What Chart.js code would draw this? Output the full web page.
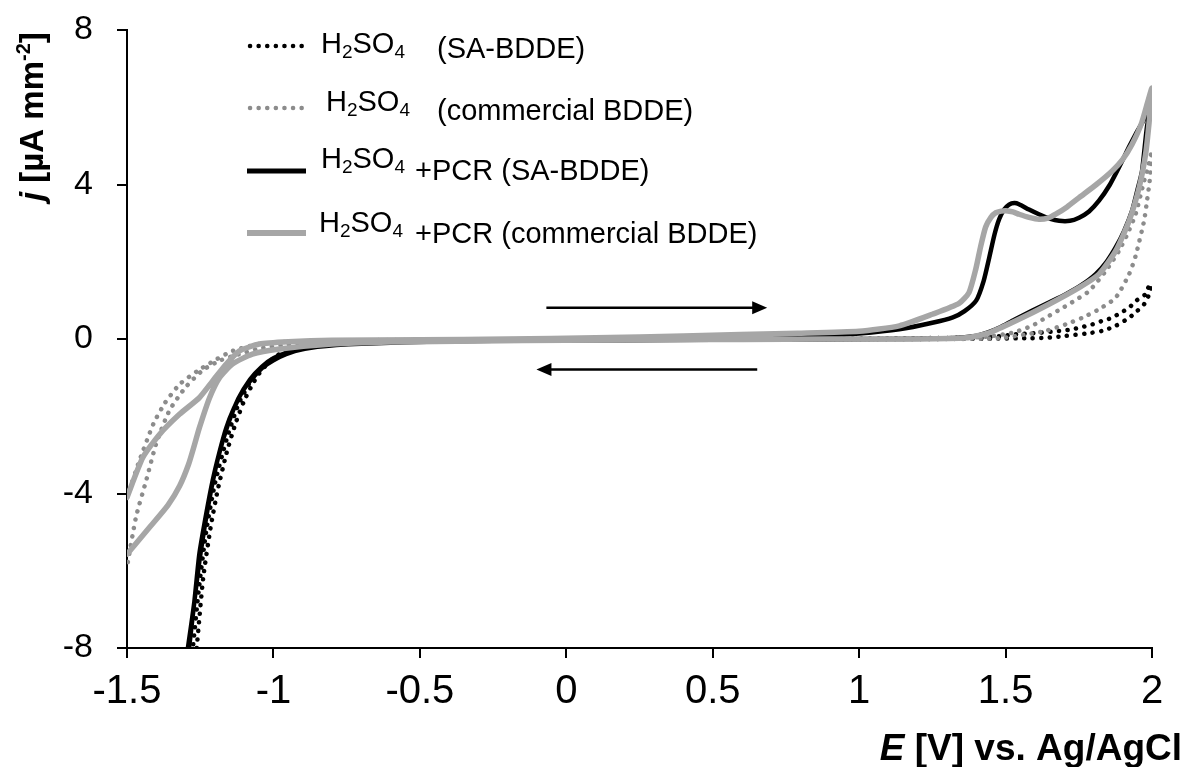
<!DOCTYPE html>
<html><head><meta charset="utf-8">
<script src="https://cdn.jsdelivr.net/npm/chart.js@4.4.1/dist/chart.umd.min.js"></script>
<style>html,body{margin:0;padding:0;background:#fff;}canvas{display:block;}</style>
</head><body>
<canvas id="c" width="1184" height="767"></canvas>
<script>
const FAM = '"Liberation Sans", Arial, Helvetica, sans-serif';

// ---- axis ticks ----
const xTicks = [-1.5, -1, -0.5, 0, 0.5, 1, 1.5, 2];
const yTicks = [-8, -4, 0, 4, 8];

// ---- legend labels ----
const seriesSuffix = ['(SA-BDDE)', '(commercial BDDE)', '+PCR (SA-BDDE)', '+PCR (commercial BDDE)'];

// ---- H2SO4 (SA-BDDE), black dotted ----
const E_A = [-1.262,-1.24,-1.215,-1.19,-1.16,-1.13,-1.1,-1.07,-1.04,-1.0,-0.95,-0.9,-0.8,-0.6,-0.3,0,0.3,0.6,0.9,1.2,1.45,1.57,1.637,1.706,1.774,1.83,1.876,1.922,1.95,1.973,1.99,2.0,
             1.99,1.978,1.944,1.922,1.893,1.864,1.83,1.797,1.762,1.727,1.683,1.614,1.535,1.478,1.4,1.2,0.9,0.6,0.3,0,-0.3,-0.6,-0.8,-0.9,-0.96,-1.0,-1.04,-1.08,-1.12,-1.16,-1.2,-1.23,-1.255,-1.275];
const J_A = [-8,-6.2,-4.9,-3.9,-2.95,-2.2,-1.6,-1.15,-0.8,-0.52,-0.32,-0.2,-0.1,-0.05,-0.02,0,0,0,0,0,0.01,0.02,0.03,0.08,0.14,0.21,0.34,0.55,0.73,0.9,1.15,1.4,
             1.37,1.16,0.98,0.81,0.68,0.55,0.47,0.38,0.31,0.25,0.21,0.16,0.12,0.07,0.04,0.02,0.01,0,0,-0.01,-0.03,-0.06,-0.12,-0.2,-0.3,-0.5,-0.75,-1.12,-1.7,-2.6,-3.75,-5.0,-6.5,-8];

// ---- H2SO4 (commercial BDDE), grey dotted ----
const E_B = [-1.5,-1.46,-1.41,-1.37,-1.32,-1.26,-1.2,-1.14,-1.05,-0.95,-0.8,-0.5,-0.2,0.1,0.4,0.7,1.0,1.3,1.478,1.569,1.637,1.706,1.762,1.819,1.876,1.922,1.944,1.973,1.983,1.992,2.0,
             1.985,1.973,1.944,1.915,1.887,1.842,1.785,1.727,1.694,1.637,1.59,1.522,1.42,1.2,0.9,0.6,0.3,0,-0.3,-0.6,-0.8,-0.95,-1.05,-1.12,-1.18,-1.24,-1.3,-1.355,-1.4,-1.434,-1.469,-1.5];
const J_B = [-4.1,-3.2,-2.2,-1.65,-1.17,-0.83,-0.55,-0.31,-0.13,-0.07,-0.04,-0.02,-0.01,0,0,0,0,0,0.02,0.12,0.21,0.38,0.55,0.77,1.07,1.68,2.15,3.06,3.58,4.09,4.87,
             4.4,4.09,3.23,2.7,2.28,1.76,1.24,0.95,0.8,0.55,0.34,0.16,0.05,0.01,0,0,-0.01,-0.02,-0.03,-0.05,-0.08,-0.14,-0.25,-0.4,-0.55,-0.8,-1.25,-1.85,-2.7,-3.65,-4.6,-5.9];

// ---- H2SO4 + PCR (SA-BDDE), black solid ----
const E_C = [-1.292,-1.27,-1.253,-1.23,-1.208,-1.185,-1.161,-1.135,-1.105,-1.07,-1.037,-1.0,-0.957,-0.9,-0.8,-0.6,-0.3,0,0.3,0.6,0.9,1.0,1.137,1.25,1.32,1.36,1.4,1.425,1.444,1.462,1.478,1.495,1.512,1.53,1.546,1.58,1.614,1.65,1.683,1.72,1.751,1.785,1.819,1.855,1.887,1.92,1.944,1.97,2.0,
             1.983,1.966,1.95,1.932,1.905,1.876,1.845,1.808,1.76,1.706,1.65,1.59,1.53,1.478,1.44,1.398,1.3,1.1,0.8,0.5,0.2,-0.1,-0.4,-0.7,-0.85,-0.95,-1.0,-1.04,-1.08,-1.12,-1.155,-1.19,-1.22,-1.25,-1.27,-1.288];
const J_C = [-8,-6.8,-5.57,-4.55,-3.68,-2.95,-2.3,-1.8,-1.35,-1.0,-0.74,-0.55,-0.39,-0.26,-0.15,-0.08,-0.03,0,0.02,0.05,0.1,0.14,0.25,0.42,0.56,0.72,1.0,1.5,2.1,2.7,3.1,3.35,3.48,3.52,3.49,3.35,3.23,3.12,3.06,3.06,3.14,3.3,3.58,3.98,4.44,4.95,5.3,5.65,6.15,
             5.5,4.35,3.85,3.32,2.8,2.37,2.0,1.68,1.4,1.16,0.95,0.73,0.5,0.29,0.17,0.08,0.02,0,-0.01,-0.02,-0.03,-0.04,-0.06,-0.12,-0.2,-0.35,-0.5,-0.72,-1.05,-1.55,-2.2,-3.1,-4.2,-5.6,-6.8,-8];

// ---- H2SO4 + PCR (commercial BDDE), grey solid ----
const E_D = [-1.5,-1.446,-1.389,-1.321,-1.253,-1.208,-1.161,-1.116,-1.048,-0.95,-0.8,-0.5,-0.2,0.1,0.4,0.79,1.0,1.137,1.25,1.341,1.375,1.398,1.415,1.432,1.45,1.467,1.485,1.501,1.525,1.546,1.58,1.614,1.645,1.671,1.71,1.751,1.81,1.864,1.9,1.932,1.965,2.0,
             1.99,1.978,1.956,1.922,1.876,1.819,1.751,1.648,1.535,1.444,1.364,1.2,0.9,0.6,0.3,0,-0.3,-0.6,-0.8,-0.98,-1.072,-1.14,-1.184,-1.218,-1.253,-1.27,-1.29,-1.32,-1.36,-1.42,-1.5];
const J_D = [-4.1,-3.07,-2.47,-1.95,-1.52,-1.09,-0.65,-0.31,-0.13,-0.07,-0.03,-0.02,0,0.03,0.08,0.15,0.2,0.34,0.64,0.92,1.2,1.8,2.4,2.9,3.15,3.27,3.31,3.32,3.29,3.23,3.15,3.1,3.13,3.23,3.42,3.66,4.0,4.35,4.65,5.04,5.6,6.5,
             5.6,4.78,3.92,3.06,2.28,1.68,1.33,0.9,0.47,0.16,0.03,0,0,-0.01,-0.02,-0.03,-0.05,-0.08,-0.13,-0.26,-0.39,-0.65,-1.0,-1.52,-2.3,-2.75,-3.25,-3.8,-4.3,-4.85,-5.57];

// ---- scan-direction arrows (E start, E end, j) ----
const arrowStartE = [-0.068, 0.652];
const arrowEndE   = [0.686, -0.102];
const arrowJ      = [0.81, -0.79];

const pts = (E, J) => E.map((e, i) => ({x: e, y: J[i]}));

const styles = [
  {color: '#000000', width: 4.5, dash: [0.1, 8.5]},
  {color: '#8c8c8c', width: 4.5, dash: [0.1, 8.5]},
  {color: '#000000', width: 4.5, dash: []},
  {color: '#a6a6a6', width: 5.5, dash: []}
];
const allData = [pts(E_A, J_A), pts(E_B, J_B), pts(E_C, J_C), pts(E_D, J_D)];
const orders = [3, 2, 1, 0];

const datasets = allData.map((d, i) => ({
  label: 'H2SO4 ' + seriesSuffix[i],
  data: d,
  showLine: true,
  borderColor: styles[i].color,
  borderWidth: styles[i].width,
  borderDash: styles[i].dash,
  borderCapStyle: 'round',
  borderJoinStyle: 'round',
  pointRadius: 0,
  pointHoverRadius: 0,
  tension: 0.2,
  fill: false,
  order: orders[i]
}));

function drawH2SO4(ctx, x, base, size) {
  const sub = Math.round(size * 0.66);
  const parts = [['H', 0, size], ['2', size * 0.16, sub], ['SO', 0, size], ['4', size * 0.16, sub]];
  for (const [t, dy, s] of parts) {
    ctx.font = s + 'px ' + FAM;
    ctx.fillText(t, x, base + dy);
    x += ctx.measureText(t).width;
  }
  return x;
}

const overlay = {
  id: 'overlay',
  afterDraw(chart) {
    const ctx = chart.ctx;
    const xs = chart.scales.x, ys = chart.scales.y;
    ctx.save();
    ctx.fillStyle = '#000';
    ctx.strokeStyle = '#000';
    ctx.textBaseline = 'alphabetic';
    ctx.textAlign = 'left';

    // arrows
    for (let i = 0; i < arrowJ.length; i++) {
      const x0 = xs.getPixelForValue(arrowStartE[i]);
      const x1 = xs.getPixelForValue(arrowEndE[i]);
      const y = ys.getPixelForValue(arrowJ[i]);
      const dir = Math.sign(x1 - x0);
      const hl = 15, hw = 6.5;
      ctx.lineWidth = 2.5;
      ctx.beginPath();
      ctx.moveTo(x0, y);
      ctx.lineTo(x1 - dir * hl * 0.8, y);
      ctx.stroke();
      ctx.beginPath();
      ctx.moveTo(x1, y);
      ctx.lineTo(x1 - dir * hl, y - hw);
      ctx.lineTo(x1 - dir * hl, y + hw);
      ctx.closePath();
      ctx.fill();
    }

    // legend
    const rows = [
      {y: 46, hx: 321, hb: 53, tx: 437, tb: 58},
      {y: 108, hx: 326, hb: 111, tx: 437, tb: 120},
      {y: 171, hx: 321, hb: 168, tx: 415, tb: 180},
      {y: 233, hx: 319, hb: 232, tx: 415, tb: 243}
    ];
    const fs = 29;
    rows.forEach((r, i) => {
      const st = styles[i];
      ctx.save();
      ctx.strokeStyle = st.color;
      ctx.lineWidth = st.width + (st.dash.length ? 0 : 0.5);
      ctx.lineCap = st.dash.length ? 'round' : 'butt';
      ctx.setLineDash(st.dash);
      ctx.beginPath();
      ctx.moveTo(st.dash.length ? 250 : 247, r.y);
      ctx.lineTo(st.dash.length ? 302 : 306, r.y);
      ctx.stroke();
      ctx.restore();
      ctx.fillStyle = '#000';
      drawH2SO4(ctx, r.hx, r.hb, fs);
      ctx.font = fs + 'px ' + FAM;
      ctx.fillText(seriesSuffix[i], r.tx, r.tb);
    });

    // x-axis title (right aligned)
    const tfs = 37;
    const bold = 'bold ' + tfs + 'px ' + FAM;
    const boldIt = 'italic bold ' + tfs + 'px ' + FAM;
    ctx.font = boldIt; const wE = ctx.measureText('E').width;
    ctx.font = bold; const rest = ' [V] vs. Ag/AgCl'; const wR = ctx.measureText(rest).width;
    const xr = 1182, xb = 760;
    ctx.font = boldIt; ctx.fillText('E', xr - wR - wE, xb);
    ctx.font = bold; ctx.fillText(rest, xr - wR, xb);

    // y-axis title (rotated)
    const yfs = 33;
    ctx.save();
    ctx.translate(43, 201);
    ctx.rotate(-Math.PI / 2);
    let px = 0;
    ctx.font = 'italic bold ' + yfs + 'px ' + FAM; ctx.fillText('j', px, 0); px += ctx.measureText('j').width;
    ctx.font = 'bold ' + yfs + 'px ' + FAM; ctx.fillText(' [µA mm', px, 0); px += ctx.measureText(' [µA mm').width;
    const sfs = Math.round(yfs * 0.62);
    ctx.font = 'bold ' + sfs + 'px ' + FAM; ctx.fillText('-2', px, -yfs * 0.38); px += ctx.measureText('-2').width;
    ctx.font = 'bold ' + yfs + 'px ' + FAM; ctx.fillText(']', px, 0);
    ctx.restore();

    ctx.restore();
  }
};

new Chart(document.getElementById('c'), {
  type: 'scatter',
  data: {datasets},
  options: {
    responsive: false,
    animation: false,
    devicePixelRatio: 1,
    layout: {padding: {left: 0, top: 30, right: 32, bottom: 0}},
    plugins: {legend: {display: false}, tooltip: {enabled: false}, title: {display: false}},
    scales: {
      x: {
        type: 'linear', min: -1.5, max: 2,
        afterBuildTicks: s => { s.ticks = xTicks.map(v => ({value: v})); },
        afterFit: s => { s.height = 119; s.paddingLeft = 0; s.paddingRight = 0; },
        grid: {display: true, drawOnChartArea: false, drawTicks: true, tickLength: 10, color: '#000', lineWidth: 2},
        border: {display: true, color: '#000', width: 2},
        ticks: {color: '#000', font: {family: FAM, size: 40}, padding: 10, maxRotation: 0, autoSkip: false, callback: v => String(v)}
      },
      y: {
        type: 'linear', min: -8, max: 8,
        afterBuildTicks: s => { s.ticks = yTicks.map(v => ({value: v})); },
        afterFit: s => { s.width = 127; s.paddingTop = 0; s.paddingBottom = 0; },
        grid: {display: true, drawOnChartArea: false, drawTicks: true, tickLength: 10, color: '#000', lineWidth: 2},
        border: {display: true, color: '#000', width: 2},
        ticks: {color: '#000', font: {family: FAM, size: 34}, padding: 24, autoSkip: false, callback: v => String(v)}
      }
    }
  },
  plugins: [overlay]
});
</script>
</body></html>
